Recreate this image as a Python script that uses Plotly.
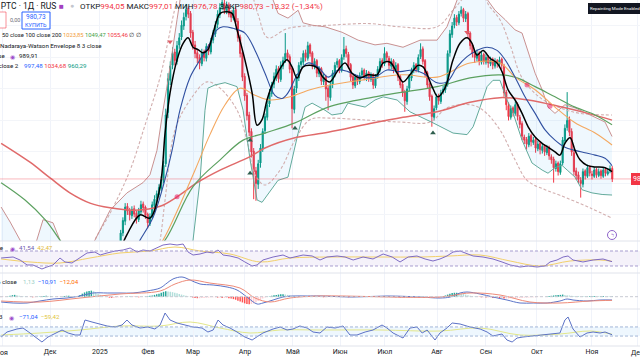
import plotly.graph_objects as go
from plotly.subplots import make_subplots

# ---------------- time axis (bar index) ----------------
month_labels = ["Ноя", "Дек", "2025", "Фев", "Мар", "Апр", "Май", "Июн", "Июл", "Авг", "Сен", "Окт", "Ноя", "Дек"]
month_pos = [0.6, 21.7, 43.8, 65.1, 85.1, 108.1, 129.4, 150.3, 170.2, 193.3, 215, 237.6, 262, 282]

# ---------------- daily candles (bars 48..271) ----------------
first_bar = 48
bar_open = [
    880, 886, 890, 884, 892, 899, 912, 927, 946, 941,
    934, 943, 937, 929, 939, 949, 945, 936, 924, 932,
    947, 956, 961, 969, 979, 1000, 1065, 1106, 1125, 1142,
    1130, 1151, 1161, 1175, 1187, 1197, 1191, 1167, 1151, 1141,
    1135, 1127, 1142, 1134, 1150, 1142, 1157, 1165, 1177, 1189,
    1199, 1204, 1194, 1202, 1191, 1185, 1196, 1181, 1161, 1141,
    1111, 1087, 1062, 1041, 1016, 991, 974, 1001, 1019, 1042,
    1059, 1076, 1089, 1101, 1110, 1121, 1107, 1124, 1132, 1141,
    1136, 1121, 1069, 1096, 1109, 1126, 1129, 1141, 1134, 1151,
    1141, 1124, 1131, 1114, 1121, 1104, 1111, 1096, 1084, 1101,
    1114, 1126, 1131, 1119, 1136, 1146, 1139, 1126, 1111, 1099,
    1111, 1104, 1113, 1119, 1109, 1116, 1107, 1113, 1099, 1111,
    1119, 1131, 1127, 1141, 1134, 1124, 1131, 1119, 1126, 1111,
    1101, 1091, 1079, 1096, 1109, 1119, 1126, 1119, 1136, 1146,
    1131, 1116, 1101, 1086, 1059, 1071, 1086, 1079, 1091, 1094,
    1101, 1141, 1164, 1176, 1186, 1179, 1191, 1196, 1184, 1191,
    1166, 1151, 1139, 1134, 1141, 1129, 1139, 1129, 1136, 1127,
    1133, 1124, 1131, 1127, 1133, 1124, 1091, 1074, 1059, 1071,
    1064, 1076, 1059, 1051, 1034, 1031, 1024, 1036, 1027, 1031,
    1019, 1026, 1017, 1023, 1014, 1021, 1009, 1006, 994, 1001,
    989, 1001, 1029, 1046, 1056, 1041, 1014, 991, 986, 979,
    974, 991, 984, 996, 987, 984, 993, 985, 991, 984,
    993, 987, 991, 994.05,
]
bar_high = [
    892, 893, 893, 895, 901, 916, 932, 950, 950, 944,
    946, 947, 940, 944, 953, 952, 947, 938, 937, 952,
    960, 966, 974, 984, 1004, 1070, 1115, 1130, 1148, 1146,
    1156, 1166, 1182, 1192, 1203, 1200, 1194, 1170, 1156, 1146,
    1139, 1146, 1145, 1153, 1152, 1160, 1170, 1181, 1195, 1204,
    1215, 1210, 1206, 1205, 1195, 1200, 1199, 1185, 1164, 1145,
    1115, 1090, 1066, 1045, 1020, 996, 1005, 1025, 1045, 1064,
    1080, 1095, 1104, 1116, 1125, 1124, 1130, 1136, 1166, 1145,
    1139, 1123, 1099, 1114, 1129, 1135, 1144, 1145, 1155, 1153,
    1143, 1134, 1133, 1124, 1123, 1114, 1113, 1099, 1104, 1119,
    1129, 1134, 1133, 1139, 1161, 1150, 1142, 1128, 1113, 1114,
    1113, 1116, 1122, 1121, 1119, 1118, 1116, 1115, 1114, 1124,
    1134, 1134, 1148, 1143, 1137, 1134, 1133, 1129, 1128, 1113,
    1104, 1094, 1099, 1114, 1122, 1129, 1128, 1139, 1153, 1149,
    1133, 1118, 1103, 1088, 1074, 1089, 1089, 1094, 1099, 1104,
    1144, 1170, 1180, 1190, 1189, 1194, 1200, 1198, 1194, 1193,
    1168, 1153, 1142, 1145, 1143, 1142, 1141, 1139, 1138, 1136,
    1135, 1134, 1133, 1136, 1135, 1127, 1094, 1078, 1074, 1073,
    1079, 1078, 1062, 1054, 1037, 1034, 1039, 1038, 1034, 1033,
    1029, 1028, 1026, 1025, 1024, 1023, 1012, 1009, 1004, 1003,
    1004, 1034, 1050, 1091, 1060, 1045, 1018, 995, 990, 983,
    994, 993, 999, 998, 991, 996, 995, 994, 993, 996,
    995, 994, 998, 997.01,
]
bar_low = [
    875, 881, 879, 880, 888, 895, 908, 922, 935, 928,
    930, 932, 924, 926, 936, 938, 930, 918, 921, 930,
    944, 950, 957, 965, 975, 996, 1058, 1100, 1120, 1125,
    1126, 1146, 1157, 1170, 1182, 1185, 1160, 1145, 1134, 1128,
    1120, 1124, 1130, 1130, 1138, 1139, 1153, 1161, 1172, 1185,
    1195, 1190, 1190, 1186, 1180, 1182, 1175, 1155, 1135, 1105,
    1080, 1055, 1035, 1008, 955, 953, 968, 995, 1015, 1038,
    1055, 1072, 1085, 1096, 1105, 1103, 1104, 1120, 1128, 1130,
    1115, 1045, 1064, 1090, 1105, 1122, 1125, 1130, 1131, 1136,
    1120, 1120, 1110, 1110, 1100, 1100, 1080, 1068, 1080, 1096,
    1110, 1122, 1115, 1116, 1132, 1135, 1121, 1105, 1095, 1096,
    1100, 1101, 1110, 1106, 1105, 1104, 1104, 1095, 1096, 1108,
    1116, 1122, 1124, 1130, 1120, 1120, 1115, 1116, 1105, 1096,
    1085, 1066, 1075, 1092, 1105, 1115, 1116, 1116, 1133, 1126,
    1110, 1095, 1080, 1047, 1055, 1068, 1075, 1076, 1088, 1090,
    1098, 1136, 1160, 1172, 1175, 1176, 1187, 1180, 1180, 1160,
    1145, 1135, 1128, 1130, 1125, 1126, 1126, 1126, 1122, 1124,
    1120, 1121, 1122, 1124, 1120, 1085, 1068, 1055, 1056, 1060,
    1061, 1055, 1045, 1030, 1025, 1018, 1021, 1022, 1024, 1014,
    1016, 1012, 1013, 1010, 1011, 1005, 1000, 976, 990, 985,
    986, 998, 1025, 1042, 1035, 1010, 985, 980, 975, 957,
    970, 980, 982, 984, 980, 982, 982, 983, 981, 982,
    984, 985, 988, 976.78,
]
bar_close = [
    886, 889, 884, 892, 898, 912, 928, 945, 940, 935,
    942, 936, 930, 940, 948, 944, 935, 925, 933, 948,
    955, 962, 970, 980, 998, 1062, 1108, 1124, 1140, 1131,
    1150, 1160, 1176, 1186, 1196, 1190, 1166, 1150, 1140, 1134,
    1128, 1141, 1135, 1149, 1143, 1156, 1166, 1176, 1190, 1198,
    1205, 1195, 1201, 1190, 1186, 1195, 1180, 1160, 1140, 1110,
    1086, 1061, 1040, 1015, 990, 975, 1000, 1020, 1041, 1060,
    1075, 1090, 1100, 1111, 1120, 1108, 1125, 1131, 1140, 1135,
    1120, 1070, 1095, 1110, 1125, 1130, 1140, 1135, 1150, 1140,
    1125, 1130, 1115, 1120, 1105, 1110, 1095, 1085, 1100, 1115,
    1125, 1130, 1120, 1135, 1145, 1140, 1125, 1110, 1100, 1110,
    1105, 1112, 1118, 1110, 1115, 1108, 1112, 1100, 1110, 1120,
    1130, 1128, 1140, 1135, 1125, 1130, 1120, 1125, 1110, 1100,
    1090, 1080, 1095, 1110, 1118, 1125, 1120, 1135, 1145, 1130,
    1115, 1100, 1085, 1060, 1070, 1085, 1080, 1090, 1095, 1100,
    1140, 1165, 1175, 1185, 1180, 1190, 1195, 1185, 1190, 1165,
    1150, 1140, 1135, 1140, 1130, 1138, 1130, 1135, 1128, 1132,
    1125, 1130, 1128, 1132, 1125, 1090, 1075, 1060, 1070, 1065,
    1075, 1060, 1050, 1035, 1030, 1025, 1035, 1028, 1030, 1020,
    1025, 1018, 1022, 1015, 1020, 1010, 1005, 995, 1000, 990,
    1000, 1030, 1045, 1055, 1040, 1015, 990, 985, 980, 975,
    990, 985, 995, 988, 985, 992, 986, 990, 985, 992,
    988, 990, 994, 980.73,
]
last_price = 980.73

# ---------------- overlay lines (bar index, price) ----------------
black_x = [52, 55.8, 61.6, 66, 70.5, 72.7, 74.9, 78, 80.7, 82.9, 85.1, 87.3, 89.5, 91.7, 94, 97.1, 100.2, 102.4,
           104.6, 108.1, 111.3, 113.5, 115.7, 117.9, 120.6, 124.6, 126.8, 129, 131.2, 133.9, 137, 140.1, 142.7,
           145.8, 149, 152.5, 155.6, 159.1, 162.7, 166.7, 169.4, 172.5, 175.6, 178.2, 181.3, 184.9, 187.1, 191.1,
           193.7, 196.8, 200.4, 203.5, 206.6, 208.8, 211, 213.7, 216.8, 219.9, 222.1, 224.8, 227.9, 231, 233.7,
           236.8, 239.9, 242.5, 245.6, 247.8, 250, 252.3, 254.5, 256.7, 259.8, 263.4, 267.8, 270.9]
black_y = [885, 910, 935, 931, 971, 1039, 1090, 1132, 1153, 1160, 1148, 1145, 1141, 1145, 1166, 1191, 1193, 1191,
           1170, 1132, 1090, 1049, 1056, 1081, 1103, 1125, 1132, 1123, 1109, 1123, 1125, 1122, 1110,
           1104, 1117, 1128, 1115, 1109, 1113, 1113, 1128, 1129, 1115, 1104, 1113, 1125, 1123, 1098,
           1085, 1096, 1132, 1153, 1160, 1153, 1138, 1144, 1134, 1128, 1117, 1094, 1081, 1064, 1047,
           1034, 1026, 1021, 1015, 1011, 1026, 1033, 1017, 1005, 998, 996, 995, 989.91]

bb_mid_x = [60, 61.6, 67.4, 71.8, 75.8, 79.3, 83.8, 88.2, 92.6, 95.7, 98.4, 102.8, 108.1, 112.6, 117, 121.4, 124.6,
            127.2, 131.7, 136.1, 140.5, 145, 149.4, 153.8, 160, 165.8, 171.1, 176.9, 182.7, 187.1, 193.3, 197.7,
            202.2, 206.6, 211, 215.5, 219.9, 223.5, 227.9, 232.3, 236.8, 241.2, 245.6, 250, 254.5, 258.9, 263.4,
            267.8, 270.9]
bb_mid_y = [895, 903, 932, 971, 1017, 1068, 1110, 1132, 1153, 1170, 1174, 1172, 1166, 1144, 1115, 1087, 1083,
            1090, 1115, 1128, 1123, 1110, 1119, 1117, 1110, 1110, 1119, 1117, 1119, 1115, 1103, 1104,
            1123, 1136, 1144, 1148, 1144, 1132, 1110, 1085, 1064, 1043, 1030, 1021, 1017, 1014, 1011,
            1007, 997.48]

bb_up_x = [0, 4, 8.4, 12, 15.5, 18.6, 23, 26.1, 32.8, 38, 41.6, 48.3, 55.8, 62.9, 66, 69.1, 71.8, 74, 78, 80.7,
           84, 90, 94, 101.5, 108.1, 113.9, 118.3, 120.6, 122.8, 127.2, 131.7, 133.9, 137.9, 143.6, 151.2, 158.3,
           165.8, 171.1, 178.2, 185.8, 193.3, 197.7, 202.2, 207.9, 214.2, 219, 223.5, 227.9, 231, 233.7, 236.8,
           239.9, 242.5, 245.6, 250, 254.5, 261.1, 267.8, 270.9]
bb_up_y = [945, 926, 903, 885, 900, 929, 925, 903, 880, 890, 903, 941, 963, 976, 986, 1017, 1068, 1106, 1183, 1233,
           1260, 1250, 1227, 1221, 1259, 1284, 1233, 1208, 1191, 1185, 1195, 1179, 1176, 1174, 1167, 1157,
           1151, 1153, 1148, 1157, 1157, 1174, 1208, 1233, 1214, 1195, 1183, 1170, 1166, 1141, 1115,
           1094, 1072, 1064, 1075, 1071, 1062, 1053, 1034.68]

bb_lo_x = [0, 15, 30, 45, 60, 72, 79.3, 85.1, 88.2, 90.4, 91.7, 94.8, 99.3, 104.6, 107.3, 110.4, 113.5, 115.7,
           122.8, 127.2, 131.7, 134.8, 137.9, 143.6, 146.7, 151.2, 153.8, 161.4, 165.8, 169.4, 175.6, 181.3,
           191.5, 200.4, 206.6, 209.3, 212.4, 215.5, 218.1, 221.2, 224.3, 226.6, 231, 235.4, 239.9, 242.5,
           245.6, 248.7, 251, 254.5, 257.6, 262, 266.5, 270.9]
bb_lo_y = [845, 820, 800, 840, 870, 860, 830, 903, 979, 1068, 1096, 1100, 1103, 1098, 1068, 1005, 954, 951,
           979, 983, 1039, 1072, 1077, 1068, 1062, 1064, 1077, 1072, 1081, 1085, 1081, 1066,
           1052, 1039, 1037, 1047, 1072, 1098, 1106, 1106, 1081, 1068, 1030, 1001, 992, 988,
           995, 998, 992, 983, 967, 963, 961, 960.29]

ma50_x = [66, 71.8, 79.3, 86, 92.6, 99.3, 105.9, 112.6, 119.2, 128.1, 137, 145.8, 159.1, 178.2, 193.3, 207.9,
          221.2, 227.9, 236.8, 245.6, 254.5, 263.4, 270.9]
ma50_y = [880, 903, 948, 992, 1037, 1075, 1096, 1087, 1081, 1085, 1094, 1100, 1106, 1113, 1110, 1128,
          1128, 1110, 1094, 1072, 1052, 1039, 1023.85]

ma100_x = [0, 10.6, 19.5, 26.1, 32.8, 48.3, 62, 72.7, 85.1, 97.1, 107.3, 117, 130.3, 145, 165.8, 178.2, 193.3,
           207.9, 221.2, 227.9, 236.8, 245.6, 254.5, 263.4, 270.9]
ma100_y = [976, 954, 929, 903, 875, 860, 870, 903, 971, 1005, 1030, 1039, 1052, 1072, 1085, 1091, 1098,
           1109, 1113, 1110, 1098, 1085, 1072, 1062, 1049.47]

ma200_x = [0, 12.8, 21.7, 30.5, 39.4, 48.3, 59.4, 70.5, 78, 86.9, 97.1, 110.4, 117, 130.3, 145, 163.6, 178.2,
           193.3, 207.9, 221.2, 233.7, 248.7, 260.2, 270.9]
ma200_y = [1026, 1002, 982, 963, 950, 944, 941, 946, 958, 976, 992, 1009, 1020, 1033, 1040, 1051, 1059,
           1066, 1078, 1084, 1081, 1072, 1064, 1055.46]

nw_up_x = [39, 41.6, 48.3, 57.2, 63.8, 70.5, 78, 83.8, 101.5, 108.1, 113.9, 118.3, 127.2, 145.8, 163.6, 176.9,
           193.3, 200.4, 206.6, 212.4, 216.8, 221.2, 225.7, 231, 239, 247.8, 256.7, 270.9]
nw_up_y = [880, 903, 937, 992, 1049, 1110, 1208, 1259, 1272, 1245, 1190, 1160, 1172, 1176, 1178, 1174,
           1174, 1195, 1214, 1218, 1199, 1183, 1151, 1109, 1084, 1071, 1064, 1062]

nw_lo_x = [68, 70.5, 72.7, 77.1, 83.8, 91.3, 97.1, 104.6, 109, 112.6, 117, 123.7, 130.3, 137, 145.8, 159.1,
           176.9, 190.2, 197.7, 207.9, 213.7, 221.2, 227.9, 233.2, 241.2, 247.8, 261.1, 270.9]
nw_lo_y = [870, 903, 954, 1043, 1081, 1104, 1096, 1068, 1030, 986, 973, 992, 1030, 1056, 1058, 1056,
           1053, 1053, 1071, 1075, 1068, 1043, 1005, 979, 967, 960, 944, 931]

# signal markers
buy_x = [110.4, 110.4, 130.3, 191.5]
buy_y = [1030, 988, 1045, 1039]
sell_x = [74.9, 206.6]
sell_y = [1155, 1167]
cross_x = [78, 233.2, 243.4]
cross_y = [958, 1100, 1073]

# ---------------- RSI ----------------
rsi_x = [0, 5.3, 8.4, 11.5, 14.1, 18.1, 20.3, 23, 26.1, 28.3, 31.4, 35, 38.1, 41.6, 43.9, 47, 50.5, 54.1, 57.2,
         60.3, 62.9, 66, 69.1, 71.8, 74.9, 78, 80.7, 82.9, 85.1, 88.2, 91.3, 94, 96.2, 98.4, 101.5, 105.1,
         108.1, 111.3, 113.5, 116.1, 120.6, 125, 128.1, 131.2, 133.9, 137.9, 141.4, 144.5, 149, 152.5, 156.1,
         160.5, 164.9, 169.4, 173.4, 176.9, 180.5, 184.4, 188, 191.5, 194.6, 197.7, 200.4, 203.5, 206.6,
         209.3, 213.7, 218.1, 222.1, 225.7, 230.1, 233.7, 237.7, 241.2, 243.4, 246.5, 249.2, 251.4, 253.6,
         258, 262.5, 266.9, 270.9]
rsi_y = [51.3, 54, 46, 32.7, 32.7, 22, 27.3, 32.7, 51.3, 40.7, 38, 51.3, 64.7, 67.3, 59.3, 64.7, 70, 72.7, 78,
         67.3, 72.7, 70, 78, 86, 88.7, 86, 88.7, 67.3, 59.3, 62, 67.3, 64.7, 72.7, 59.3, 56.7, 51.3,
         40.7, 30, 32.7, 46, 54, 59.3, 51.3, 56.7, 59.3, 56.7, 46, 54, 56.7, 54, 46,
         54, 48.7, 62, 54, 40.7, 54, 56.7, 48.7, 43.3, 48.7, 56.7, 67.3, 70, 62,
         56.7, 54, 48.7, 40.7, 32.7, 27.3, 30, 27.3, 30, 40.7, 46, 54, 56.7, 46,
         40.7, 46, 48.7, 41.54]
rsi_ma_x = [0, 12.8, 26.1, 39.4, 52.7, 66, 77.1, 88.2, 101.5, 114.8, 128.1, 145.8, 168, 185.8, 199.1, 212.4,
            225.7, 239, 252.3, 265.6, 270.9]
rsi_ma_y = [48.7, 40.7, 38, 51.3, 64.7, 70, 80.7, 70, 62, 40.7, 51.3, 54, 54, 54, 56.7, 59.3,
            43.3, 30, 43.3, 46, 42.47]

# ---------------- MACD ----------------
macd_x = [0, 5.3, 11.5, 17.2, 23, 29.2, 35, 40.7, 47, 52.7, 58.5, 64.7, 70.5, 73.6, 76.2, 80.2, 83.8, 88.2, 94,
          100.2, 104.6, 109, 113.5, 116.1, 120.6, 125, 129.4, 135.7, 141.4, 156.1, 171.1, 185.8, 194.6, 199.1,
          203.5, 206.6, 212.4, 218.1, 224.3, 230.1, 235.9, 242.1, 247.8, 251, 253.6, 259.8, 265.6, 270.9]
macd_y = [-17.5, -20.8, -20.8, -14.2, -7.6, -4.3, 2.3, 12.2, 12.2, 12.2, 12.2, 18.8, 28.7, 45.2, 58.4, 65, 55.1,
          41.9, 38.6, 32, 22.1, -1, -24.1, -20.8, -10.9, -1, 2.3, 2.3, 2.3, -1, 2.3, -1, -4.3, -1,
          12.2, 15.5, 8.9, -1, -10.9, -20.8, -20.8, -20.8, -14.2, -7.6, -10.9, -14.2, -10.9, -10.91]
signal_x = [0, 17.2, 35, 52.7, 70.5, 77.1, 83.8, 92.6, 105.9, 112.6, 119.2, 128.1, 141.4, 194.6, 207.9, 221.2,
            234.5, 247.8, 261.1, 270.9]
signal_y = [-14.2, -17.5, -4.3, 8.9, 18.8, 41.9, 55.1, 45, 28.7, -4.3, -17.5, -4.3, 2.3, -1, 12.2, 5.6,
            -17.5, -20.8, -14.2, -12.04]
macd_hist = [
    -2, -1, 0, 1, 3, 5, 6, 5, 3, 2,
    1, 1, 0, -1, -2, -2, -1, 1, 2, 2,
    3, 2, 2, 1, 0, -1, -1, 0, 2, 3,
    3, 2, 1, 1, 2, 6, 10, 14, 17, 19,
    20, 18, 14, 10, 6, 3, 1, -1, -3, -4,
    -4, -3, -2, -2, -1, 0, 1, 1, 0, -1,
    -1, -2, -1, 0, 1, 2, 3, 4, 6, 8,
    10, 13, 16, 18, 17, 16, 15, 13, 11, 9,
    7, 5, 3, 1, -1, -3, -4, -5, -5, -4,
    -4, -3, -3, -2, -2, -2, -3, -3, -4, -4,
    -4, -5, -6, -8, -10, -13, -16, -19, -22, -24,
    -25, -24, -22, -18, -14, -10, -6, -3, -1, 1,
    3, 5, 6, 7, 8, 8, 7, 6, 5, 3,
    2, 1, 1, 0, 0, -1, -1, 0, 1, 1,
    0, -1, -1, -2, -2, -1, 0, 1, 1, 1,
    1, 1, 0, -1, -2, -2, -2, -1, -1, 0,
    0, 0, 1, 1, 1, 0, 0, 1, 1, 2,
    2, 1, 1, 0, -1, -2, -2, -3, -3, -3,
    -3, -2, -2, -1, 0, 0, 1, 1, 0, -1,
    -2, -3, -3, -3, -2, -1, 1, 4, 7, 10,
    12, 13, 13, 12, 11, 9, 7, 5, 3, 2,
    1, 0, -1, -2, -2, -3, -3, -3, -4, -4,
    -4, -5, -5, -6, -6, -6, -5, -5, -5, -4,
    -4, -4, -3, -3, -3, -2, -2, -2, -1, -1,
    -1, 0, 1, 2, 3, 4, 5, 6, 6, 7,
    6, 5, 4, 3, 2, 1, 1, 0, 1, 1,
    1, 2, 2, 2, 1, 1, 2, 2, 1, 1,
    1, 1.13,
]

# ---------------- CCI ----------------
cci_x = [0, 2.6, 7, 9.7, 12.8, 15.9, 18.1, 20.8, 24.8, 27, 29.7, 32.8, 35, 37.2, 40.3, 43.9, 47, 50.5, 53.6,
         55.8, 58, 61.6, 65.1, 68.2, 70.5, 72.7, 74.9, 78, 81.5, 85.1, 89.1, 91.7, 94, 96.2, 98.4, 101.5,
         104.6, 108.1, 111.3, 113.5, 116.1, 120.6, 123.7, 126.8, 129.4, 132.5, 135.7, 138.3, 141.4, 144.5,
         148.1, 151.6, 154.7, 157.8, 161.4, 164.9, 168.9, 171.1, 173.8, 178.2, 181.3, 184.4, 186.7, 188.9,
         192.4, 194.6, 197.7, 200, 203.5, 207.9, 212.4, 215.5, 218.1, 222.1, 224.3, 226.6, 228.8, 231.4,
         235.9, 240.3, 244.8, 247.8, 250, 251.4, 253.6, 256.7, 259.8, 262.5, 265.6, 267.8, 270.9]
cci_y = [-121, -11, 55, 77, -33, -143, -231, -121, -11, 33, -33, -77, -77, 253, 209, 165, 121, 99, 143,
         253, 143, 77, 99, 55, 143, 407, 253, 187, 143, 99, 77, -11, 33, 253, 143, 77,
         -11, -121, -187, -121, -33, 55, 99, 33, 55, 121, 77, -11, -33, 99,
         77, 121, -77, -77, -11, 33, 143, 77, -33, -143, 77, 99, -33, 33,
         -187, -33, 77, 187, 165, 99, 55, -11, -99, -55, -187, -231, -143, -121,
         -99, -77, -55, -33, 253, 319, 55, -121, -33, -11, -33, -11, -71.04]
cci_ma_x = [0, 17.2, 35, 52.7, 70.5, 83.8, 97.1, 110.4, 123.7, 141.4, 168, 194.6, 212.4, 230.1, 247.8, 261.1,
            270.9]
cci_ma_y = [-77, -33, 33, 121, 121, 209, 77, -33, 33, 33, 33, 11, 77, -77, -55, 11, -59.42]

# ---------------- colours ----------------
UP, DOWN = "#089981", "#F23645"
FONT = "Roboto"
TXT = "#131722"

fig = make_subplots(rows=4, cols=1, shared_xaxes=True, vertical_spacing=0,
                    row_heights=[241, 32, 36, 37])

bar_x = list(range(first_bar, first_bar + len(bar_close)))

# BB fill
fig.add_trace(go.Scatter(x=bb_up_x + bb_lo_x[::-1], y=bb_up_y + bb_lo_y[::-1], fill="toself",
                         fillcolor="rgba(33,150,243,0.07)", line=dict(width=0), mode="lines",
                         hoverinfo="skip"), row=1, col=1)

# candles
fig.add_trace(go.Candlestick(x=bar_x, open=bar_open, high=bar_high, low=bar_low, close=bar_close,
                             increasing=dict(line=dict(color=UP, width=1), fillcolor=UP),
                             decreasing=dict(line=dict(color=DOWN, width=1), fillcolor=DOWN),
                             whiskerwidth=0, hoverinfo="skip"), row=1, col=1)


def line(x, y, color, width=1, dash="solid", shape="spline"):
    return go.Scatter(x=x, y=y, mode="lines", line=dict(color=color, width=width, dash=dash, shape=shape),
                      hoverinfo="skip")


fig.add_trace(line(nw_up_x, nw_up_y, "#D2AFAF", 1.1, "3px,2px"), row=1, col=1)
fig.add_trace(line(nw_lo_x, nw_lo_y, "#D2AFAF", 1.1, "3px,2px"), row=1, col=1)
fig.add_trace(line(bb_up_x, bb_up_y, "#C99191", 1, shape="linear"), row=1, col=1)
fig.add_trace(line(bb_lo_x, bb_lo_y, "#62AA9B", 1, shape="linear"), row=1, col=1)
fig.add_trace(line(ma200_x, ma200_y, "#E06A6A", 1.5), row=1, col=1)
fig.add_trace(line(ma100_x, ma100_y, "#5CA160", 1.2), row=1, col=1)
fig.add_trace(line(ma50_x, ma50_y, "#F4A860", 1.1), row=1, col=1)
fig.add_trace(line(bb_mid_x, bb_mid_y, "#2F4FA0", 1.1), row=1, col=1)
fig.add_trace(line(black_x, black_y, "#000000", 1.5), row=1, col=1)

fig.add_trace(go.Scatter(x=buy_x, y=buy_y, mode="markers", hoverinfo="skip",
                         marker=dict(symbol="triangle-up", size=5, color="#2E5E4E")), row=1, col=1)
fig.add_trace(go.Scatter(x=sell_x, y=sell_y, mode="markers", hoverinfo="skip",
                         marker=dict(symbol="triangle-down", size=5, color="#E0606A")), row=1, col=1)
fig.add_trace(go.Scatter(x=cross_x, y=cross_y, mode="markers", hoverinfo="skip",
                         marker=dict(symbol="circle", size=5, color="rgba(233,30,99,0.55)")), row=1, col=1)

# RSI
fig.add_trace(line(rsi_ma_x, rsi_ma_y, "#F2D06B", 1), row=2, col=1)
fig.add_trace(line(rsi_x, rsi_y, "#7E6BC4", 1, shape="linear"), row=2, col=1)

# MACD
hist_colors = []
for i, v in enumerate(macd_hist):
    prev = macd_hist[i - 1] if i > 0 else v
    if v >= 0:
        hist_colors.append("#26A69A" if v >= prev else "#B2DFDB")
    else:
        hist_colors.append("#FF5252" if v < prev else "#FFCDD2")
fig.add_trace(go.Bar(x=list(range(len(macd_hist))), y=macd_hist, marker=dict(color=hist_colors, line=dict(width=0)),
                     hoverinfo="skip"), row=3, col=1)
fig.add_trace(line(macd_x, macd_y, "#5A73C8", 1), row=3, col=1)
fig.add_trace(line(signal_x, signal_y, "#EE8A78", 1), row=3, col=1)

# CCI
fig.add_trace(line(cci_ma_x, cci_ma_y, "#E3E78A", 1), row=4, col=1)
fig.add_trace(line(cci_x, cci_y, "#5C72C6", 1, shape="linear"), row=4, col=1)

# ---------------- axes ----------------
# the first and last month labels sit on the very edges; they are drawn as annotations so they show cut
tick_text_axis = [""] + month_labels[1:-1] + [""]
fig.update_xaxes(range=[-0.5, 283.3], tickvals=month_pos, ticktext=tick_text_axis, showgrid=True,
                 gridcolor="#F0F3FA", gridwidth=1, zeroline=False, showline=False, ticks="",
                 tickfont=dict(family=FONT, size=7, color=TXT), rangeslider=dict(visible=False),
                 fixedrange=True)
fig.update_yaxes(showticklabels=False, zeroline=False, showline=False, fixedrange=True)
fig.update_yaxes(range=[901.9, 1208], showgrid=True, gridcolor="#F3F5F9", tick0=1015, dtick=40, row=1, col=1)
fig.update_yaxes(range=[11.3, 96.7], showgrid=False, row=2, col=1)
fig.update_yaxes(range=[-40.6, 78.2], showgrid=False, row=3, col=1)
fig.update_yaxes(range=[-319, 495], showgrid=False, row=4, col=1)

W, HP = 640.0, 346.0


def PX(x):
    return x / W


def PY(y):
    return (HP - y) / HP


shapes = []
for yy in [241, 273, 309, 346]:
    shapes.append(dict(type="line", xref="paper", yref="paper", x0=0, x1=1, y0=PY(yy), y1=PY(yy),
                       line=dict(color="#E0E3EB", width=1)))
shapes.append(dict(type="line", xref="paper", yref="y", x0=0, x1=1, y0=last_price, y1=last_price,
                   line=dict(color="rgba(242,54,69,0.35)", width=1)))
shapes.append(dict(type="rect", xref="paper", yref="y2", x0=0, x1=1, y0=30, y1=70,
                   fillcolor="rgba(126,87,194,0.08)", line=dict(width=0), layer="below"))
for lv in [30, 70]:
    shapes.append(dict(type="line", xref="paper", yref="y2", x0=0, x1=1, y0=lv, y1=lv,
                       line=dict(color="#A79DCF", width=1, dash="3px,2px")))
shapes.append(dict(type="line", xref="paper", yref="y3", x0=0, x1=1, y0=0, y1=0,
                   line=dict(color="#C8CBD3", width=1, dash="3px,2px")))
shapes.append(dict(type="rect", xref="paper", yref="y4", x0=0, x1=1, y0=-100, y1=100,
                   fillcolor="rgba(33,150,243,0.08)", line=dict(width=0), layer="below"))
for lv in [-100, 100]:
    shapes.append(dict(type="line", xref="paper", yref="y4", x0=0, x1=1, y0=lv, y1=lv,
                       line=dict(color="#A3B6D8", width=1, dash="3px,2px")))
shapes.append(dict(type="rect", xref="paper", yref="paper", x0=PX(-6), x1=PX(6), y0=PY(28), y1=PY(12),
                   line=dict(color="rgba(242,54,69,0.55)", width=1), fillcolor="white"))
shapes.append(dict(type="rect", xref="paper", yref="paper", x0=PX(22), x1=PX(50), y0=PY(29), y1=PY(12),
                   line=dict(color="#2962FF", width=1), fillcolor="white"))
shapes.append(dict(type="rect", xref="paper", yref="paper", x0=PX(588), x1=PX(642), y0=PY(14), y1=PY(3),
                   line=dict(width=0), fillcolor="#131722"))
shapes.append(dict(type="rect", xref="paper", yref="paper", x0=PX(631), x1=PX(650), y0=PY(185), y1=PY(173),
                   line=dict(width=0), fillcolor=DOWN))
shapes.append(dict(type="circle", xref="paper", yref="paper", x0=PX(607.5), x1=PX(616.5), y0=PY(239.5),
                   y1=PY(230.5), line=dict(color="#8E63C9", width=1), fillcolor="white"))

anns = []


def ann(x, y, text, color=TXT, size=6, anchor="left"):
    anns.append(dict(x=PX(x), y=PY(y), xref="paper", yref="paper", text=text, showarrow=False,
                     xanchor=anchor, yanchor="middle", borderpad=0,
                     font=dict(family=FONT, size=size, color=color)))


def sp(text, color):
    return "<span style='color:%s'>%s</span>" % (color, text)


# row 1
ann(57, 6, "Индекс РТС · 1Д · RUS", TXT, 8.5, "right")
ann(58, 6, "■", "#A33FC0", 8)
ann(69, 6, "●", "#C3C6CE", 7)
ann(79, 6, "ОТКР" + sp("994,05", DOWN) + " МАКС" + sp("997,01", DOWN) + " МИН" + sp("976,78", DOWN)
    + " ЗАКР" + sp("980,73", DOWN) + " " + sp("−13,32 (−1,34%)", DOWN), TXT, 8)
# row 2
ann(9, 20, "0,00", "#6A6D78", 5.5)
ann(36, 16.5, "980,73", "#2962FF", 6.5, "center")
ann(36, 24.5, "КУПИТЬ", "#2962FF", 5.5, "center")
# row 3
ann(1, 35, "50 close 100 close 200 " + sp("1023,85", "#F29B38") + " " + sp("1049,47", "#43A047") + " "
    + sp("1055,46", DOWN) + " ∅ ∅", TXT, 5.8)
# row 4
ann(-1, 46, "Nadaraya-Watson Envelope 8 3 close", TXT, 6.2)
# row 5
ann(6, 56, "close", TXT, 6.2, "right")
ann(9, 56, "◉", "#9C4DCC", 6)
ann(18, 56, "989,91", TXT, 6.2)
# row 6
ann(20, 66, "BB 20 SMA close 2", TXT, 6.2, "right")
ann(23, 66, sp("997,48", "#2962FF") + " " + sp("1034,68", DOWN) + " " + sp("960,29", UP), TXT, 6.2)
# RSI label
ann(5, 248, "RSI 14 close", TXT, 6.2, "right")
ann(9, 248, "◉", "#9C4DCC", 6)
ann(18, 248, sp("41,54", "#6E5BB0") + "  " + sp("42,47", "#E2B93B"), TXT, 6.2)
# MACD label
ann(19, 282, "MACD 12 26 close", TXT, 6.2, "right")
ann(22, 282, sp("1,13", "#9DCFC8") + "  " + sp("−10,91", "#2962FF") + "  " + sp("−12,04", "#FF6D00"), TXT, 6.2)
# CCI label
ann(4, 317, "CCI 20 hlc3", TXT, 6.2, "right")
ann(8, 317, "◉", "#9C4DCC", 6)
ann(18, 317, sp("−71,04", "#2962FF") + "  " + sp("−59,42", "#E2C63B"), TXT, 6.2)
# edge month labels
ann(1.5, 353, month_labels[0], TXT, 7, "center")
ann(637, 353, month_labels[-1], TXT, 7, "center")
# misc
ann(615, 8.5, "Repainting Mode Enabled", "#FFFFFF", 4.4, "center")
ann(632, 179, "980,73", "#FFFFFF", 7)
ann(612, 235, "ϟ", "#8E63C9", 7, "center")

fig.update_layout(width=640, height=360, margin=dict(l=0, r=0, t=0, b=14), paper_bgcolor="white",
                  plot_bgcolor="white", showlegend=False, bargap=0.35, shapes=shapes, annotations=anns,
                  font=dict(family=FONT, color=TXT))

fig.write_html("out.html", config={"displayModeBar": False, "staticPlot": True},
               post_script="document.body.style.margin='0px';document.body.style.overflow='hidden';")
